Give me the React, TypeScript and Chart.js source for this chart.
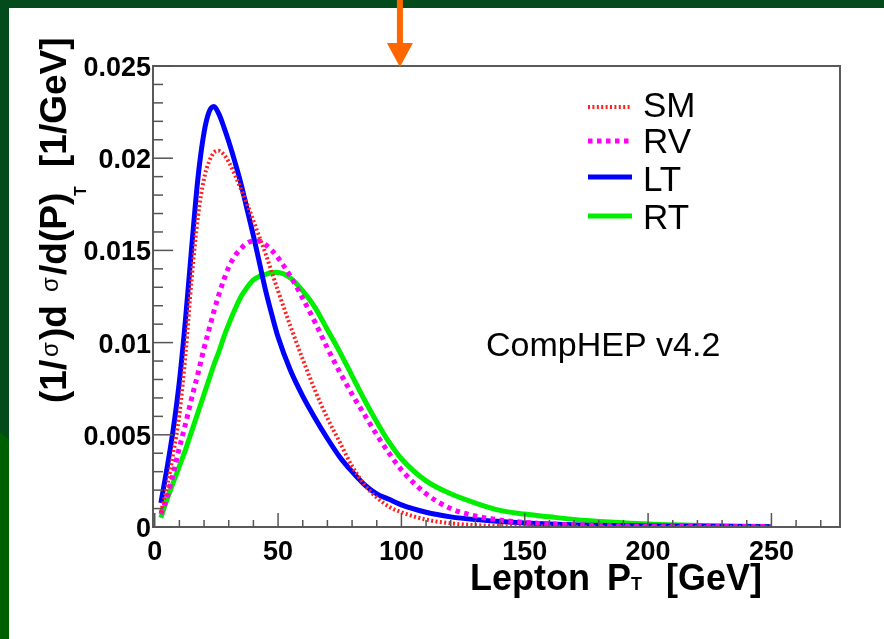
import React, { useEffect, useRef } from 'react';
import { Chart, registerables } from 'chart.js';

Chart.register(...registerables);

// ---------- data ----------
const ptGeV = [2.5, 5, 7.5, 10, 12.5, 15, 17.5, 20, 22, 24, 26, 28, 30, 32.5, 35, 37.5, 40, 42.5, 45, 47.5, 50,
  55, 60, 65, 70, 75, 80, 85, 90, 95, 100, 110, 120, 130, 140, 150, 160, 175, 200, 225, 250];

const smValues = [0.0008, 0.0022, 0.0040, 0.0061, 0.0094, 0.0135, 0.0168, 0.0189, 0.0198, 0.0203, 0.0204, 0.0202, 0.0198, 0.0191, 0.0183, 0.0175, 0.0166, 0.0157, 0.0148, 0.0138, 0.0128,
  0.0109, 0.0091, 0.0074, 0.0059, 0.0046, 0.0033, 0.0023, 0.0016, 0.0011, 0.0008, 0.0004, 0.0002, 0.0001, 0.00005, 0.00003, 0.00002, 0.00001, 0, 0, 0];

const rvValues = [0.0007, 0.0016, 0.0029, 0.0043, 0.0056, 0.0070, 0.0083, 0.0097, 0.0107, 0.0117, 0.0126, 0.0134, 0.0141, 0.0147, 0.0151, 0.0154, 0.0155, 0.0155, 0.0153, 0.0150, 0.0146,
  0.0136, 0.0124, 0.0111, 0.0097, 0.0084, 0.0072, 0.0061, 0.0050, 0.0040, 0.0031, 0.0018, 0.0010, 0.0006, 0.00038, 0.00025, 0.00017, 0.0001, 0.00005, 0.00003, 0.00002];

const ltValues = [0.0013, 0.0032, 0.0053, 0.0079, 0.0113, 0.0152, 0.0189, 0.0214, 0.0225, 0.0228, 0.0224, 0.0217, 0.0209, 0.0198, 0.0186, 0.0172, 0.0158, 0.0143, 0.0128, 0.0115, 0.0103,
  0.0085, 0.0071, 0.0059, 0.0048, 0.0038, 0.0030, 0.0023, 0.0018, 0.0015, 0.0012, 0.0008, 0.00055, 0.0004, 0.0003, 0.00022, 0.00016, 0.0001, 0.00006, 0.00004, 0.00002];

const rtValues = [0.0005, 0.0015, 0.0024, 0.0033, 0.0042, 0.0052, 0.0062, 0.0072, 0.0080, 0.0088, 0.0095, 0.0103, 0.0110, 0.0118, 0.0125, 0.0130, 0.0134, 0.0136, 0.0137, 0.0138, 0.0138,
  0.0135, 0.0128, 0.0119, 0.0107, 0.0095, 0.0082, 0.0069, 0.0057, 0.0046, 0.0037, 0.0025, 0.0018, 0.0013, 0.0009, 0.0007, 0.00055, 0.00035, 0.00016, 0.00007, 0.00003];

const seriesNames = ['SM', 'RV', 'LT', 'RT'];

const xTickValues = [0, 50, 100, 150, 200, 250];
const xTickLabels = ['0', '50', '100', '150', '200', '250'];
const yTickValues = [0, 0.005, 0.01, 0.015, 0.02, 0.025];
const yTickLabels = ['0', '0.005', '0.01', '0.015', '0.02', '0.025'];
const xMinorTicks = [0, 10, 20, 30, 40, 50, 60, 70, 80, 90, 100, 110, 120, 130, 140, 150, 160, 170, 180, 190, 200, 210, 220, 230, 240, 250, 260, 270];
const yMinorTicks = [0, 0.001, 0.002, 0.003, 0.004, 0.005, 0.006, 0.007, 0.008, 0.009, 0.01, 0.011, 0.012, 0.013, 0.014, 0.015, 0.016, 0.017, 0.018, 0.019, 0.02, 0.021, 0.022, 0.023, 0.024, 0.025];

const annotationText = 'CompHEP v4.2';
const markerValue = 100;

// ---------- layout ----------
const W = 884;
const H = 639;
const SANS = "'Liberation Sans', Arial, Helvetica, sans-serif";
const TICKFONT = `bold 27px ${SANS}`;

const decorPlugin = {
  id: 'decor',
  beforeDraw(chart: any) {
    const ctx = chart.ctx as CanvasRenderingContext2D;
    ctx.save();
    ctx.fillStyle = '#ffffff';
    ctx.fillRect(0, 0, W, H);
    ctx.fillStyle = '#044b1c';
    ctx.fillRect(0, 0, W, 8);
    ctx.fillRect(0, 0, 9, 440);
    ctx.fillStyle = '#006000';
    ctx.beginPath();
    ctx.moveTo(0, 432);
    ctx.lineTo(9, 440);
    ctx.lineTo(9, H);
    ctx.lineTo(0, H);
    ctx.closePath();
    ctx.fill();
    ctx.restore();
  },
  afterDraw(chart: any) {
    const ctx = chart.ctx as CanvasRenderingContext2D;
    const a = chart.chartArea;
    const xs = chart.scales.x;
    const ys = chart.scales.y;
    ctx.save();

    // frame
    ctx.strokeStyle = '#5a5a5a';
    ctx.lineWidth = 2;
    ctx.strokeRect(a.left, a.top, a.right - a.left, a.bottom - a.top);

    // ticks (inside)
    ctx.lineWidth = 1.5;
    ctx.strokeStyle = '#555555';
    xMinorTicks.forEach((v) => {
      const px = xs.getPixelForValue(v);
      const len = xTickValues.includes(v) ? 14 : 7;
      ctx.beginPath();
      ctx.moveTo(px, a.bottom);
      ctx.lineTo(px, a.bottom - len);
      ctx.stroke();
    });
    yMinorTicks.forEach((v, i) => {
      const py = ys.getPixelForValue(v);
      const len = i % 5 === 0 ? 20 : 10;
      ctx.beginPath();
      ctx.moveTo(a.left, py);
      ctx.lineTo(a.left + len, py);
      ctx.stroke();
    });

    // tick labels
    ctx.fillStyle = '#000';
    ctx.font = TICKFONT;
    ctx.textAlign = 'center';
    ctx.textBaseline = 'alphabetic';
    xTickValues.forEach((v, i) => {
      ctx.fillText(xTickLabels[i], xs.getPixelForValue(v), 560);
    });
    ctx.textAlign = 'right';
    ctx.textBaseline = 'alphabetic';
    yTickValues.forEach((v, i) => {
      ctx.fillText(yTickLabels[i], 151, ys.getPixelForValue(v) + 10);
    });

    // x title
    ctx.textAlign = 'left';
    ctx.textBaseline = 'alphabetic';
    ctx.font = `bold 36px ${SANS}`;
    ctx.fillText('Lepton', 470, 590);
    ctx.fillText('P', 607, 590);
    ctx.fillText('[GeV]', 666, 590);
    ctx.font = `bold 18px ${SANS}`;
    ctx.fillText('T', 631, 590);

    // y title (rotated)
    const rot = (text: string, font: string, yStart: number, v: number) => {
      ctx.save();
      ctx.translate(66 + v, yStart);
      ctx.rotate(-Math.PI / 2);
      ctx.font = font;
      ctx.textAlign = 'left';
      ctx.textBaseline = 'alphabetic';
      ctx.fillText(text, 0, 0);
      ctx.restore();
    };
    const big = `bold 37px ${SANS}`;
    const sig = `24px ${SANS}`;
    rot('(1/', big, 403, 0);
    rot('σ', sig, 357, -8);
    rot(')d', big, 340, 0);
    rot('σ', sig, 292, -8);
    rot('/d(P)', big, 275, 0);
    rot('T', `bold 16px ${SANS}`, 196, 20);
    rot('[1/GeV]', big, 167, 0);

    // legend
    const lineY = [107, 141, 177, 216];
    const textY = [117, 153, 191, 229];
    chart.data.datasets.forEach((ds: any, i: number) => {
      ctx.save();
      ctx.strokeStyle = ds.borderColor;
      ctx.lineWidth = ds.borderWidth;
      ctx.setLineDash(ds.borderDash || []);
      ctx.lineCap = 'butt';
      ctx.beginPath();
      ctx.moveTo(588, lineY[i]);
      ctx.lineTo(632, lineY[i]);
      ctx.stroke();
      ctx.restore();
      ctx.fillStyle = '#000';
      ctx.font = `35px ${SANS}`;
      ctx.textAlign = 'left';
      ctx.textBaseline = 'alphabetic';
      ctx.fillText(ds.label, 643, textY[i]);
    });

    // annotation
    ctx.font = `34px ${SANS}`;
    ctx.fillStyle = '#000';
    ctx.fillText(annotationText, 486, 356);

    // orange arrow
    const ax = xs.getPixelForValue(markerValue) - 1.5;
    ctx.fillStyle = '#ff6600';
    ctx.fillRect(ax - 3, 0, 6, 46);
    ctx.beginPath();
    ctx.moveTo(ax - 13, 43);
    ctx.lineTo(ax + 13, 43);
    ctx.lineTo(ax, a.top + 1);
    ctx.closePath();
    ctx.fill();

    ctx.restore();
  },
};

export default function App() {
  const ref = useRef<HTMLCanvasElement | null>(null);

  useEffect(() => {
    if (!ref.current) return;
    const mk = (vals: number[]) => ptGeV.map((x, i) => ({ x, y: vals[i] }));
    const chart = new Chart(ref.current, {
      type: 'line',
      data: {
        datasets: [
          { label: seriesNames[0], data: mk(smValues), borderColor: '#ff2020', borderWidth: 4, borderDash: [2, 2.4] },
          { label: seriesNames[1], data: mk(rvValues), borderColor: '#ff00ff', borderWidth: 5, borderDash: [4.5, 4.5] },
          { label: seriesNames[2], data: mk(ltValues), borderColor: '#0000ff', borderWidth: 5 },
          { label: seriesNames[3], data: mk(rtValues), borderColor: '#00ee00', borderWidth: 5 },
        ] as any,
      },
      options: {
        responsive: false,
        animation: false,
        layout: { padding: { left: 153, right: 44, top: 66, bottom: 112 } },
        elements: {
          point: { radius: 0 },
          line: { tension: 0.4, cubicInterpolationMode: 'monotone', borderCapStyle: 'butt', borderJoinStyle: 'round', fill: false },
        },
        scales: {
          x: { type: 'linear', min: -0.7, max: 277.8, display: false },
          y: { type: 'linear', min: 0, max: 0.025, display: false },
        },
        plugins: { legend: { display: false }, tooltip: { enabled: false } },
      },
      plugins: [decorPlugin],
    });
    return () => chart.destroy();
  }, []);

  return (
    <div style={{ position: 'fixed', left: 0, top: 0, width: W, height: H, background: '#fff' }}>
      <canvas ref={ref} width={W} height={H} style={{ display: 'block' }} />
    </div>
  );
}
